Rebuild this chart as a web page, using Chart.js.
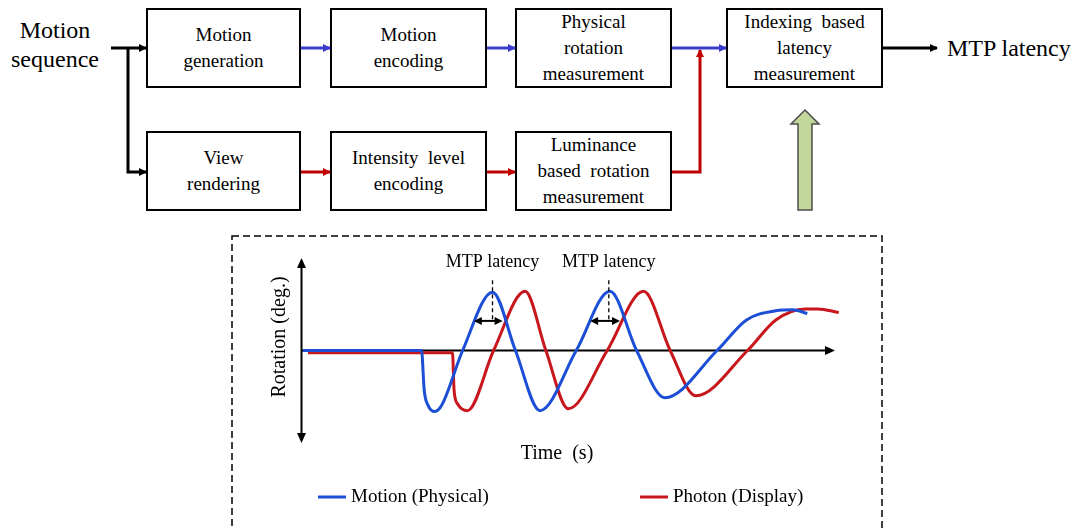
<!DOCTYPE html>
<html>
<head>
<meta charset="utf-8">
<script src="https://cdn.jsdelivr.net/npm/chart.js@4.4.1/dist/chart.umd.min.js"></script>
<style>
  html, body { margin: 0; padding: 0; background: #fff; }
  #page { position: relative; width: 1080px; height: 528px; overflow: hidden; color: #000; }
  #flow { position: absolute; left: 0; top: 0; }
  .box { position: absolute; display: flex; flex-direction: column; justify-content: center; align-items: center;
         font-family: "Liberation Serif", "Times New Roman", "DejaVu Serif", serif;
         font-size: 19px; line-height: 26px; white-space: pre; text-align: center; }
  .big { position: absolute; font-family: "Liberation Serif", "Times New Roman", "DejaVu Serif", serif;
         font-size: 24px; line-height: 29px; text-align: center; white-space: pre; }
  #plot { position: absolute; left: 232px; top: 236px; width: 650px; height: 292px; }
</style>
</head>
<body>
<div id="page">
  <svg id="flow" width="1080" height="528" xmlns="http://www.w3.org/2000/svg">
    <defs>
      <marker id="hk" markerWidth="8" markerHeight="8" refX="7" refY="4" orient="auto" markerUnits="userSpaceOnUse">
        <path d="M0,0 L8,4 L0,8 z" fill="#000"/>
      </marker>
      <marker id="hb" markerWidth="8" markerHeight="8" refX="7" refY="4" orient="auto" markerUnits="userSpaceOnUse">
        <path d="M0,0 L8,4 L0,8 z" fill="#3c3ccc"/>
      </marker>
      <marker id="hr" markerWidth="8" markerHeight="8" refX="7" refY="4" orient="auto" markerUnits="userSpaceOnUse">
        <path d="M0,0 L8,4 L0,8 z" fill="#c00000"/>
      </marker>
    </defs>
    <g fill="none" stroke="#000" stroke-width="2">
      <rect x="147" y="9" width="153" height="78"/>
      <rect x="331" y="9" width="155" height="78"/>
      <rect x="516" y="9" width="155" height="78"/>
      <rect x="727" y="9" width="155" height="78"/>
      <rect x="147" y="132" width="153" height="78"/>
      <rect x="331" y="132" width="155" height="78"/>
      <rect x="516" y="132" width="155" height="78"/>
    </g>
    <g fill="none" stroke-width="3">
      <path d="M111,48 H146" stroke="#000" marker-end="url(#hk)"/>
      <path d="M128,48 V172 H146" stroke="#000" marker-end="url(#hk)"/>
      <path d="M301,48 H330" stroke="#3c3ccc" marker-end="url(#hb)"/>
      <path d="M487,48 H515" stroke="#3c3ccc" marker-end="url(#hb)"/>
      <path d="M672,48 H726" stroke="#3c3ccc" marker-end="url(#hb)"/>
      <path d="M301,172 H330" stroke="#c00000" marker-end="url(#hr)"/>
      <path d="M487,172 H515" stroke="#c00000" marker-end="url(#hr)"/>
      <path d="M672,172 H700 V50" stroke="#c00000" marker-end="url(#hr)"/>
      <path d="M883,48 H937" stroke="#000" marker-end="url(#hk)"/>
    </g>
    <polygon points="805,110 819,124 812,124 812,210 798,210 798,124 791,124"
             fill="#c3d69b" stroke="#4d4d4d" stroke-width="1.5"/>
    <rect x="232" y="236" width="650" height="320" fill="none" stroke="#000" stroke-width="1.5" stroke-dasharray="7 4"/>
  </svg>

  <div class="big" style="left:0; top:16px; width:110px;">Motion
sequence</div>
  <div class="big" style="left:947px; top:34px;">MTP latency</div>

  <div class="box" style="left:147px; top:9px; width:153px; height:78px;">Motion
generation</div>
  <div class="box" style="left:331px; top:9px; width:155px; height:78px;">Motion
encoding</div>
  <div class="box" style="left:516px; top:9px; width:155px; height:78px;">Physical
rotation
measurement</div>
  <div class="box" style="left:727px; top:9px; width:155px; height:78px;">Indexing  based
latency
measurement</div>
  <div class="box" style="left:147px; top:132px; width:153px; height:78px;">View
rendering</div>
  <div class="box" style="left:331px; top:132px; width:155px; height:78px;">Intensity  level
encoding</div>
  <div class="box" style="left:516px; top:132px; width:155px; height:78px;">Luminance
based  rotation
measurement</div>

  <div id="plot"><canvas id="chart" width="650" height="292"></canvas></div>
</div>

<script>
// time (arbitrary units) and rotation (normalised)
const motionTime = [0.3, 22.5, 23.0, 23.7, 25.0, 26.3, 30.2, 35.8, 40.1, 44.7, 51.5, 57.8, 62.8, 68.1, 77.9, 83.4, 88.9, 92.1, 94.8];
const motionRot  = [0, 0, -0.43, -0.59, -0.66, -0.59, 0, 0.63, 0, -0.65, 0, 0.64, 0, -0.51, 0, 0.33, 0.43, 0.44, 0.40];

const photonTime = [1.2, 28.3, 28.6, 29.3, 31.1, 36.0, 41.9, 45.8, 50.0, 57.3, 64.1, 69.1, 73.9, 83.6, 88.9, 94.4, 96.8, 100.7];
const photonRot  = [-0.024, -0.024, -0.43, -0.58, -0.65, 0, 0.64, 0, -0.63, 0, 0.64, 0, -0.49, 0, 0.33, 0.45, 0.45, 0.41];

// MTP latency markers: motion peak, and the span between the two rising edges
const latencyLabel = 'MTP latency';
const latencyPeak  = [35.8, 57.6];
const latencyFrom  = [32.3, 54.1];
const latencyTo    = [37.7, 59.7];
const latencyLevel = 0.32;
const labelLevel   = 0.95;
const dashTop      = 0.76;

const seriesNames  = ['Motion (Physical)', 'Photon (Display)'];
const seriesColors = ['#1c4fd6', '#c8161d'];

const serif = '"Liberation Serif", "Times New Roman", "DejaVu Serif", serif';

function toPoints(xs, ys) {
  return xs.map((v, i) => ({x: v, y: ys[i]}))
}

function head(ctx, x, y, ang, len, half) {
  ctx.save()
  ctx.translate(x, y)
  ctx.rotate(ang)
  ctx.beginPath()
  ctx.moveTo(0, 0)
  ctx.lineTo(-len, -half)
  ctx.lineTo(-len, half)
  ctx.closePath()
  ctx.fill()
  ctx.restore()
}

// arrow axes, drawn under the curves
const arrowAxes = {
  id: 'arrowAxes',
  beforeDatasetsDraw(chart) {
    const {ctx, scales: {x, y}} = chart
    const x0 = x.getPixelForValue(0), y0 = y.getPixelForValue(0)
    const yt = y.getPixelForValue(1), yb = y.getPixelForValue(-1)
    const xr = x.getPixelForValue(100)
    ctx.save()
    ctx.strokeStyle = '#000'
    ctx.fillStyle = '#000'
    ctx.lineWidth = 2
    ctx.beginPath()
    ctx.moveTo(x0, yt + 6); ctx.lineTo(x0, yb - 6)
    ctx.moveTo(x0, y0); ctx.lineTo(xr - 6, y0)
    ctx.stroke()
    head(ctx, x0, yt, -Math.PI / 2, 10, 4.5)
    head(ctx, x0, yb, Math.PI / 2, 10, 4.5)
    head(ctx, xr, y0, 0, 10, 4.5)
    ctx.restore()
  }
}

// latency markers, titles and legend
const notes = {
  id: 'notes',
  afterDatasetsDraw(chart) {
    const {ctx, scales: {x, y}} = chart
    ctx.save()
    ctx.strokeStyle = '#000'
    ctx.fillStyle = '#000'
    latencyPeak.forEach((p, i) => {
      const px = x.getPixelForValue(p)
      ctx.setLineDash([4, 3])
      ctx.lineWidth = 1.3
      ctx.beginPath()
      ctx.moveTo(px, y.getPixelForValue(dashTop))
      ctx.lineTo(px, y.getPixelForValue(latencyLevel))
      ctx.stroke()
      ctx.setLineDash([])
      const a = x.getPixelForValue(latencyFrom[i]), b = x.getPixelForValue(latencyTo[i])
      const ly = y.getPixelForValue(latencyLevel)
      ctx.lineWidth = 2
      ctx.beginPath()
      ctx.moveTo(a + 5, ly); ctx.lineTo(b - 5, ly)
      ctx.stroke()
      head(ctx, a, ly, Math.PI, 8, 4)
      head(ctx, b, ly, 0, 8, 4)
      ctx.font = '18px ' + serif
      ctx.textAlign = 'center'
      ctx.textBaseline = 'middle'
      ctx.fillText(latencyLabel, x.getPixelForValue(p), y.getPixelForValue(labelLevel))
    })

    // axis titles
    ctx.font = '20px ' + serif
    ctx.textAlign = 'center'
    ctx.textBaseline = 'middle'
    ctx.save()
    ctx.translate(47.5, 101)
    ctx.rotate(-Math.PI / 2)
    ctx.fillText('Rotation (deg.)', 0, 0)
    ctx.restore()
    ctx.fillText('Time  (s)', 325, 218)

    // legend
    const itemX = [86, 408]
    ctx.font = '19px ' + serif
    ctx.textAlign = 'left'
    chart.data.datasets.forEach((ds, i) => {
      ctx.strokeStyle = ds.borderColor
      ctx.lineWidth = 3
      ctx.beginPath()
      ctx.moveTo(itemX[i], 261); ctx.lineTo(itemX[i] + 28, 261)
      ctx.stroke()
      ctx.fillText(ds.label, itemX[i] + 33, 261)
    })
    ctx.restore()
  }
}

const ctx = document.getElementById('chart').getContext('2d')
new Chart(ctx, {
  type: 'line',
  data: {
    datasets: [
      {
        label: seriesNames[0],
        data: toPoints(motionTime, motionRot),
        borderColor: seriesColors[0],
        borderWidth: 3,
        pointRadius: 0,
        cubicInterpolationMode: 'monotone',
        order: 1
      },
      {
        label: seriesNames[1],
        data: toPoints(photonTime, photonRot),
        borderColor: seriesColors[1],
        borderWidth: 3,
        pointRadius: 0,
        cubicInterpolationMode: 'monotone',
        order: 2
      }
    ]
  },
  options: {
    responsive: false,
    animation: false,
    layout: {padding: {left: 69.5, right: 36.3, top: 22, bottom: 85}},
    scales: {
      x: {type: 'linear', min: 0, max: 102, display: false},
      y: {min: -1, max: 1, display: false}
    },
    plugins: {
      legend: {display: false},
      tooltip: {enabled: false}
    }
  },
  plugins: [arrowAxes, notes]
})
</script>
</body>
</html>
